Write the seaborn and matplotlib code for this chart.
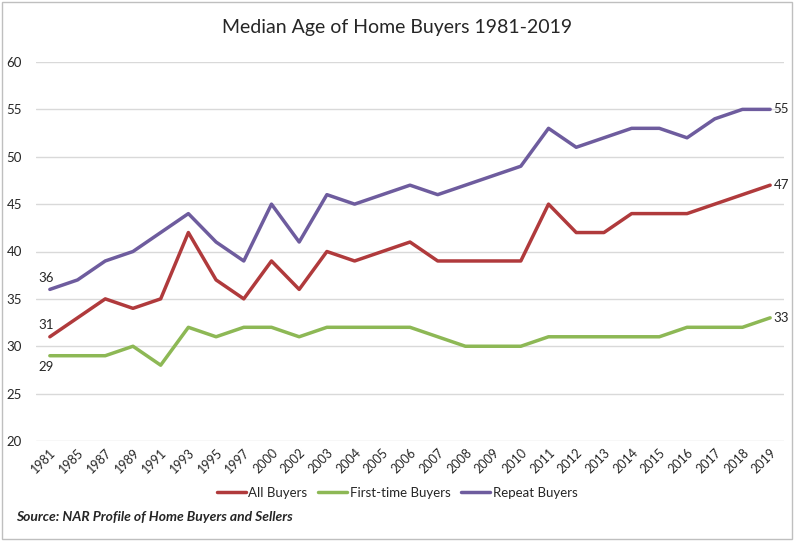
import pandas as pd
import matplotlib.pyplot as plt
import seaborn as sns
from matplotlib.patches import Rectangle

sns.set_style("white")
plt.rcParams["font.family"] = ["Lato", "DejaVu Sans"]

years = ["1981", "1985", "1987", "1989", "1991", "1993", "1995", "1997", "2000",
         "2002", "2003", "2004", "2005", "2006", "2007", "2008", "2009", "2010",
         "2011", "2012", "2013", "2014", "2015", "2016", "2017", "2018", "2019"]
all_buyers = [31, 33, 35, 34, 35, 42, 37, 35, 39, 36, 40, 39, 40, 41, 39, 39, 39, 39,
              45, 42, 42, 44, 44, 44, 45, 46, 47]
first_time = [29, 29, 29, 30, 28, 32, 31, 32, 32, 31, 32, 32, 32, 32, 31, 30, 30, 30,
              31, 31, 31, 31, 31, 32, 32, 32, 33]
repeat = [36, 37, 39, 40, 42, 44, 41, 39, 45, 41, 46, 45, 46, 47, 46, 47, 48, 49,
          53, 51, 52, 53, 53, 52, 54, 55, 55]

series = {"All Buyers": all_buyers, "First-time Buyers": first_time, "Repeat Buyers": repeat}
colors = {"All Buyers": "#B03A3C", "First-time Buyers": "#8DB855", "Repeat Buyers": "#6E5C9E"}

df = pd.DataFrame({"Year": years * 3,
                   "Age": all_buyers + first_time + repeat,
                   "Group": sum([[k] * len(years) for k in series], [])})
df["idx"] = list(range(len(years))) * 3

fig = plt.figure(figsize=(7.94, 5.41), dpi=100)
ax = fig.add_axes([36 / 794, 1 - 441 / 541, 748 / 794, 379 / 541])
sns.lineplot(data=df, x="idx", y="Age", hue="Group", palette=colors, linewidth=2.5,
             ax=ax, legend=False)

ax.set_xlim(-0.5, len(years) - 0.5)
ax.set_ylim(20, 60)
ax.set_yticks(range(20, 61, 5))
ax.set_xticks(range(len(years)))
ax.set_xticklabels(years, rotation=45, ha="right", rotation_mode="anchor", fontsize=9)
ax.tick_params(axis="y", labelsize=9.5, pad=10, length=0)
ax.tick_params(axis="x", length=0, pad=4)
ax.yaxis.grid(True, color="#D9D9D9", linewidth=1)
for s in ax.spines.values():
    s.set_visible(False)
ax.set_xlabel("")
ax.set_ylabel("")

# data labels
ax.text(0 - 0.15, repeat[0] + 0.6, str(repeat[0]), ha="center", va="bottom", fontsize=9.5)
ax.text(0 - 0.15, all_buyers[0] + 0.6, str(all_buyers[0]), ha="center", va="bottom", fontsize=9.5)
ax.text(0 - 0.15, first_time[0] - 0.6, str(first_time[0]), ha="center", va="top", fontsize=9.5)
n = len(years) - 1
for vals in (repeat, all_buyers, first_time):
    ax.text(n + 0.12, vals[-1], str(vals[-1]), ha="left", va="center", fontsize=9.5)

fig.text(0.5, 1 - 28 / 541, "Median Age of Home Buyers 1981-2019", ha="center",
         va="center", fontsize=14)

handles = [plt.Line2D([], [], color=colors[k], linewidth=2.5) for k in series]
fig.legend(handles, list(series), loc="center", bbox_to_anchor=(0.5, 1 - 493 / 541),
           ncol=3, frameon=False, fontsize=9.5, handlelength=2.2, handletextpad=0.2,
           columnspacing=0.8)
fig.text(16 / 794, 1 - 517 / 541, "Source: NAR Profile of Home Buyers and Sellers",
         ha="left", va="center", fontsize=10, fontstyle="italic", fontweight="bold")

fig.patches.append(Rectangle((0.003, 0.004), 0.994, 0.992, transform=fig.transFigure,
                             fill=False, edgecolor="#BFBFBF", linewidth=1))

fig.savefig("out.png", dpi=100)
